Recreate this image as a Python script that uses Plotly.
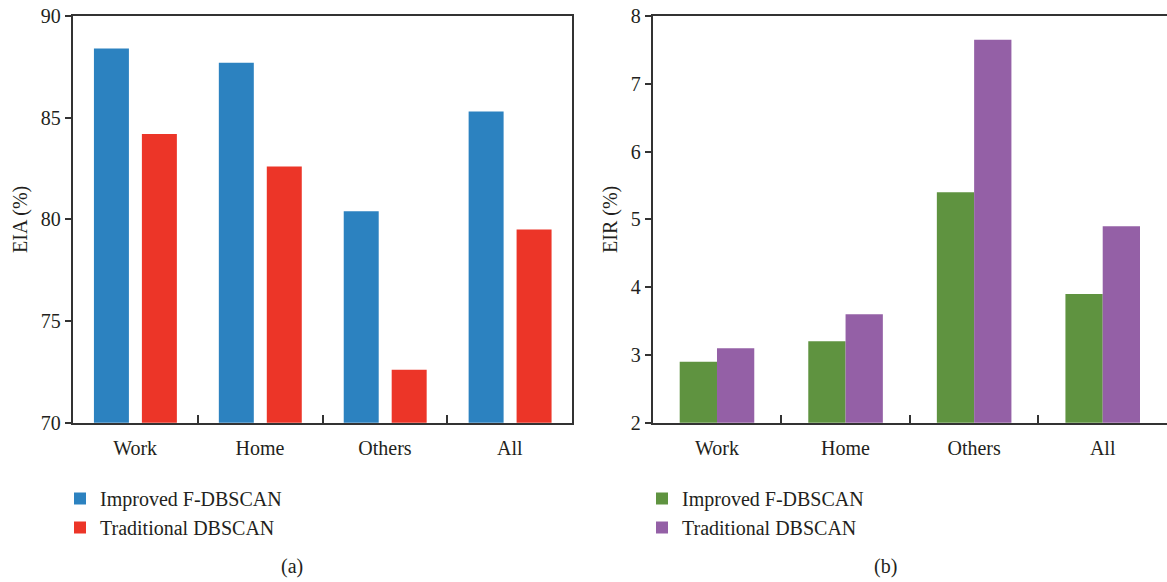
import plotly.graph_objects as go

# Categories and series values
categories = ["Work", "Home", "Others", "All"]
series_names = ["Improved F-DBSCAN", "Traditional DBSCAN"]
eia_improved = [88.4, 87.7, 80.4, 85.3]
eia_traditional = [84.2, 82.6, 72.6, 79.5]
eir_improved = [2.9, 3.2, 5.4, 3.9]
eir_traditional = [3.1, 3.6, 7.65, 4.9]
eia_ticks = [70, 75, 80, 85, 90]
eir_ticks = [2, 3, 4, 5, 6, 7, 8]

FONT = "Liberation Serif"
TEXT = "#231f20"
AXIS = "#333333"
BLUE, RED = "#2c82c0", "#ec3528"
GREEN, PURPLE = "#5f9340", "#9460a6"

W, H = 1167, 582
Y_DOMAIN = [(H - 422.7) / H, (H - 16) / H]

fig = go.Figure()

# (a) EIA bars, separated within each group
fig.add_trace(go.Bar(x=categories, y=eia_improved, name=series_names[0],
                     marker=dict(color=BLUE, line_width=0), width=0.28, offset=-0.33,
                     xaxis="x", yaxis="y", legend="legend"))
fig.add_trace(go.Bar(x=categories, y=eia_traditional, name=series_names[1],
                     marker=dict(color=RED, line_width=0), width=0.28, offset=0.054,
                     xaxis="x", yaxis="y", legend="legend"))

# (b) EIR bars, touching within each group
fig.add_trace(go.Bar(x=categories, y=eir_improved, name=series_names[0],
                     marker=dict(color=GREEN, line_width=0), width=0.29, offset=-0.29,
                     xaxis="x2", yaxis="y2", legend="legend2"))
fig.add_trace(go.Bar(x=categories, y=eir_traditional, name=series_names[1],
                     marker=dict(color=PURPLE, line_width=0), width=0.29, offset=0.0,
                     xaxis="x2", yaxis="y2", legend="legend2"))

xaxis_common = dict(
    type="category", range=[-0.5, 3.5], showline=True, linecolor=AXIS, linewidth=2,
    mirror=True, ticks="inside", tickson="boundaries", ticklen=8, tickwidth=1.5,
    tickcolor=AXIS, showgrid=False, zeroline=False, automargin=False,
    ticklabelstandoff=6,
    tickfont=dict(family=FONT, size=20, color=TEXT), fixedrange=True,
)
yaxis_common = dict(
    showline=True, linecolor=AXIS, linewidth=2, ticks="outside", ticklen=6,
    tickwidth=1.5, tickcolor=AXIS, showgrid=False, zeroline=False, automargin=False,
    tickfont=dict(family=FONT, size=20, color=TEXT), domain=Y_DOMAIN,
    title_font=dict(family=FONT, size=20, color=TEXT), fixedrange=True,
)

legend_common = dict(
    orientation="v", xanchor="left", yanchor="top", bgcolor="rgba(0,0,0,0)",
    font=dict(family=FONT, size=20, color=TEXT), traceorder="normal",
    tracegroupgap=0, itemclick=False, itemdoubleclick=False,
)

fig.update_layout(
    template="none",
    width=W, height=H, margin=dict(l=0, r=0, t=0, b=0, pad=0, autoexpand=False),
    paper_bgcolor="white", plot_bgcolor="white", barmode="overlay",
    xaxis=dict(xaxis_common, domain=[72.7 / W, 572.3 / W], anchor="y"),
    yaxis=dict(yaxis_common, range=[70, 90], tickvals=eia_ticks, anchor="x",
               mirror=True, title=dict(text="EIA (%)", standoff=8)),
    xaxis2=dict(xaxis_common, domain=[652.7 / W, 1.0], anchor="y2"),
    yaxis2=dict(yaxis_common, range=[2, 8], tickvals=eir_ticks, anchor="x2",
                mirror=False, title=dict(text="EIR (%)", standoff=8)),
    legend=dict(legend_common, x=60 / W, y=1 - 479 / H),
    legend2=dict(legend_common, x=642 / W, y=1 - 479 / H),
    showlegend=True,
    annotations=[
        dict(text="(a)", x=291.5 / W, y=1 - 566 / H, xref="paper", yref="paper",
             showarrow=False, xanchor="center", yanchor="middle",
             font=dict(family=FONT, size=20, color=TEXT)),
        dict(text="(b)", x=885 / W, y=1 - 566 / H, xref="paper", yref="paper",
             showarrow=False, xanchor="center", yanchor="middle",
             font=dict(family=FONT, size=20, color=TEXT)),
    ],
)

fig.write_html("out.html")
